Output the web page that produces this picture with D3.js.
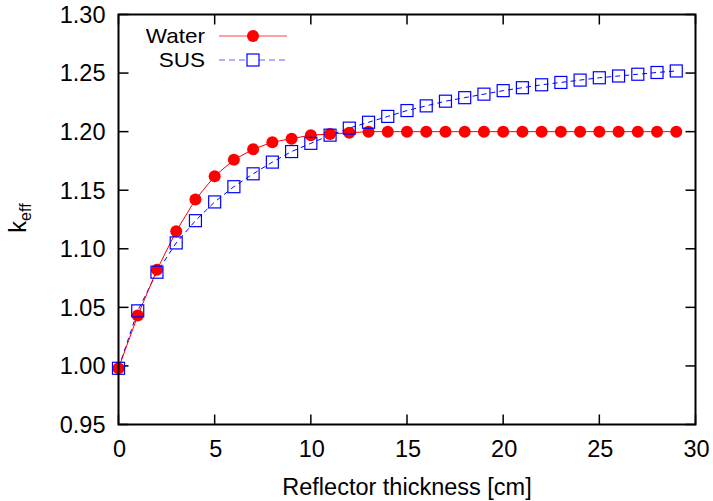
<!DOCTYPE html>
<html><head><meta charset="utf-8">
<script src="https://cdn.jsdelivr.net/npm/d3@7"></script>
<style>
body{margin:0;background:#fff;}
text{font-family:"Liberation Sans",Arial,sans-serif;fill:#000;}
</style></head>
<body><svg id="c" width="713" height="501"></svg>
<script>
const thickness = d3.range(0, 30);
const waterValues = [0.998,1.043,1.082,1.115,1.142,1.162,1.176,1.185,1.191,1.194,1.197,1.198,1.199,1.200,1.200,1.200,1.200,1.200,1.200,1.200,1.200,1.200,1.200,1.200,1.200,1.200,1.200,1.200,1.200,1.200];
const susValues = [0.998,1.047,1.080,1.105,1.124,1.140,1.153,1.164,1.174,1.183,1.190,1.197,1.203,1.208,1.213,1.218,1.222,1.226,1.229,1.232,1.235,1.2375,1.240,1.242,1.244,1.246,1.2475,1.249,1.2505,1.2518];
const xTicks = [0,5,10,15,20,25,30];
const yTicks = [0.95,1.00,1.05,1.10,1.15,1.20,1.25,1.30];
const seriesNames = ["Water","SUS"];

const svg = d3.select("#c");
const L=118.5, R=695.5, T=14.5, B=424.5;
const x = d3.scaleLinear().domain([0,30]).range([L,R]);
const y = d3.scaleLinear().domain([0.95,1.30]).range([B,T]);
const fs = 23.5;
const half = fs*0.358;

// ticks (inward, mirrored)
const tk = svg.append("g").attr("stroke","#000").attr("stroke-width",1.5);
xTicks.forEach(v=>{
  tk.append("line").attr("x1",x(v)).attr("x2",x(v)).attr("y1",B).attr("y2",B-10);
  tk.append("line").attr("x1",x(v)).attr("x2",x(v)).attr("y1",T).attr("y2",T+10);
});
yTicks.forEach(v=>{
  tk.append("line").attr("x1",L).attr("x2",L+10).attr("y1",y(v)).attr("y2",y(v));
  tk.append("line").attr("x1",R).attr("x2",R-10).attr("y1",y(v)).attr("y2",y(v));
});
svg.append("g").selectAll("text").data(xTicks).join("text")
  .attr("x",d=>x(d)+1).attr("y",449+half).attr("text-anchor","middle").attr("font-size",fs).text(d=>d);
svg.append("g").selectAll("text").data(yTicks).join("text")
  .attr("x",L-13).attr("y",d=>y(d)+half).attr("text-anchor","end").attr("font-size",fs).text(d=>d.toFixed(2));

// series
const line = d3.line().x((d,i)=>x(thickness[i])).y(d=>y(d));
svg.append("path").datum(susValues).attr("d",line).attr("fill","none").attr("stroke","#0000ff").attr("stroke-width",1).attr("stroke-dasharray","5,4");
svg.append("path").datum(waterValues).attr("d",line).attr("fill","none").attr("stroke","#ff0000").attr("stroke-width",1);
svg.append("g").selectAll("circle").data(waterValues).join("circle")
  .attr("cx",(d,i)=>x(thickness[i])).attr("cy",d=>y(d)).attr("r",6).attr("fill","#ff0000");
svg.append("g").selectAll("rect").data(susValues).join("rect")
  .attr("x",(d,i)=>x(thickness[i])-6).attr("y",d=>y(d)-6).attr("width",12).attr("height",12)
  .attr("fill","none").attr("stroke","#0000ff").attr("stroke-width",1.2);

// frame
svg.append("rect").attr("x",L).attr("y",T).attr("width",R-L).attr("height",B-T)
  .attr("fill","none").attr("stroke","#000").attr("stroke-width",2);

// legend
const lg = svg.append("g");
const lfs = 20.5;
[0,1].forEach(i=>{
  const yy = 36 + i*24;
  lg.append("text").attr("x",205).attr("y",yy+lfs*0.358)
    .attr("text-anchor","end").attr("font-size",lfs)
    .attr("transform",`translate(205,0) scale(1.1,1) translate(-205,0)`)
    .text(seriesNames[i]);
  lg.append("line").attr("x1",219).attr("x2",287).attr("y1",yy).attr("y2",yy)
    .attr("stroke",i===0?"#ff4040":"#6060ff").attr("stroke-width",1.2)
    .attr("stroke-dasharray",i===0?null:"6,4");
  if(i===0) lg.append("circle").attr("cx",253).attr("cy",yy).attr("r",6).attr("fill","#ff0000");
  else lg.append("rect").attr("x",247).attr("y",yy-6).attr("width",12).attr("height",12).attr("fill","#fff").attr("stroke","#0000ff").attr("stroke-width",1.2);
});

// axis labels
svg.append("text").attr("x",(L+R)/2).attr("y",487+half).attr("text-anchor","middle").attr("font-size",fs).text("Reflector thickness [cm]");
const yl = svg.append("text").attr("transform","translate(26,218) rotate(-90)").attr("text-anchor","middle").attr("font-size",fs);
yl.append("tspan").text("k");
yl.append("tspan").attr("font-size",16).attr("dy",5).text("eff");
</script></body></html>
